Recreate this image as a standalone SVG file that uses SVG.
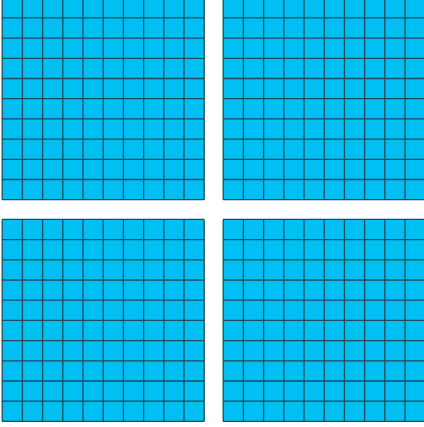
<svg xmlns="http://www.w3.org/2000/svg" width="424" height="427" viewBox="0 0 424 427">
<style>
.bg{fill:#00bff3;}
.ln{fill:none;stroke:#1e4d5e;stroke-width:1.3;}
</style>
<defs>
<g id="grid">
<rect class="bg" x="0" y="0" width="202" height="202"/>
<path class="ln" d="M0,0V202M20.2,0V202M40.4,0V202M60.6,0V202M80.8,0V202M101,0V202M121.2,0V202M141.4,0V202M161.6,0V202M181.8,0V202M202,0V202M0,0H202M0,20.2H202M0,40.4H202M0,60.6H202M0,80.8H202M0,101H202M0,121.2H202M0,141.4H202M0,161.6H202M0,181.8H202M0,202H202"/>
</g>
</defs>
<g id="grid-top-left"><use href="#grid" x="2.2" y="-2.3"/></g>
<g id="grid-top-right"><use href="#grid" x="223.2" y="-2.3"/></g>
<g id="grid-bottom-left"><use href="#grid" x="2.2" y="219.4"/></g>
<g id="grid-bottom-right"><use href="#grid" x="223.2" y="219.4"/></g>
<g id="connectors"/>
</svg>
